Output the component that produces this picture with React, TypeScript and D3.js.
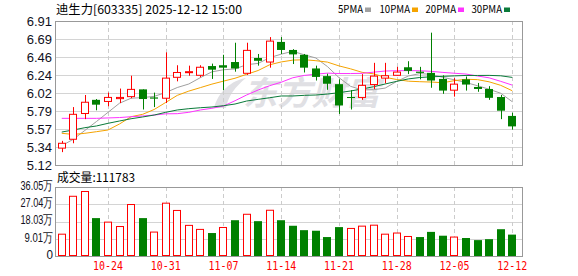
import React from 'react';
import * as d3 from 'd3';

const dates = ['10-20','10-21','10-22','10-23','10-24','10-27','10-28','10-29','10-30','10-31','11-03','11-04','11-05','11-06','11-07','11-10','11-11','11-12','11-13','11-14','11-17','11-18','11-19','11-20','11-21','11-24','11-25','11-26','11-27','11-28','12-01','12-02','12-03','12-04','12-05','12-08','12-09','12-10','12-11','12-12'];
const xTickLabels = ['10-24','10-31','11-07','11-14','11-21','11-28','12-05','12-12'];

const opens = [5.33,5.44,5.76,5.93,5.91,5.945,5.97,6.06,5.96,5.95,6.21,6.27,6.235,6.35,6.36,6.40,6.26,6.45,6.40,6.65,6.55,6.49,6.32,6.225,6.125,5.965,5.96,6.12,6.20,6.235,6.335,6.28,6.265,6.19,6.05,6.185,6.09,6.065,5.965,5.73];
const highs = [5.42,5.84,5.99,5.94,6.02,6.07,6.23,6.06,6.02,6.52,6.36,6.355,6.36,6.38,6.49,6.64,6.64,6.50,6.71,6.71,6.56,6.50,6.355,6.255,6.185,6.05,6.25,6.39,6.39,6.34,6.41,6.34,6.765,6.235,6.20,6.22,6.14,6.10,5.99,5.77];
const lows = [5.28,5.39,5.69,5.80,5.85,5.89,5.95,5.81,5.84,5.89,6.16,6.23,6.21,6.19,6.05,6.28,6.24,6.355,6.33,6.50,6.375,6.27,6.17,6.055,5.755,5.81,5.93,6.065,6.135,6.23,6.25,6.185,6.08,6.005,5.97,6.045,6.03,5.93,5.69,5.56];
const closes = [5.39,5.75,5.90,5.87,5.96,5.96,6.06,5.94,5.945,6.20,6.27,6.28,6.335,6.305,6.33,6.32,6.545,6.415,6.66,6.55,6.495,6.33,6.215,6.13,5.86,5.955,6.11,6.225,6.23,6.275,6.29,6.265,6.17,6.045,6.125,6.12,6.065,5.955,5.795,5.60];
const volumes = [114000,312000,337000,198000,177000,154000,269000,198000,125000,276000,238000,160000,139000,120000,149000,187000,218000,182000,239000,187000,158000,135000,132000,99000,151000,144000,156000,161000,114000,120000,102000,99000,126000,106000,99000,94000,83000,88000,140000,111783];

const ma5 = [5.36,5.44,5.55,5.66,5.774,5.888,5.95,5.958,5.973,6.021,6.083,6.127,6.206,6.278,6.304,6.314,6.367,6.383,6.454,6.498,6.533,6.49,6.45,6.344,6.206,6.098,6.054,6.056,6.076,6.159,6.226,6.257,6.246,6.209,6.179,6.145,6.105,6.062,6.012,5.907];
const ma10 = [5.514,5.50,5.514,5.534,5.555,5.63,5.72,5.75,5.81,5.8975,5.9855,6.0385,6.082,6.1255,6.1625,6.1985,6.247,6.2945,6.366,6.401,6.4235,6.4285,6.4165,6.399,6.352,6.3155,6.272,6.253,6.21,6.1825,6.162,6.1555,6.151,6.1425,6.169,6.1855,6.181,6.154,6.1105,6.043];
const ma20 = [5.70,5.70,5.70,5.70,5.705,5.71,5.72,5.729,5.741,5.756,5.758,5.775,5.804,5.825,5.853,5.919,5.99,6.052,6.106,6.149,6.2045,6.2335,6.249,6.262,6.257,6.257,6.2595,6.274,6.288,6.292,6.293,6.292,6.284,6.271,6.2605,6.2505,6.2265,6.2035,6.16,6.113];
const ma30 = [5.53,5.555,5.584,5.605,5.638,5.667,5.695,5.717,5.741,5.775,5.804,5.82,5.832,5.841,5.857,5.878,5.915,5.936,5.956,5.978,5.978,5.986,5.99,6.002,6.019,6.04,6.065,6.093,6.127,6.16,6.19,6.2075,6.2165,6.222,6.228,6.233,6.233,6.234,6.229,6.209];

const priceTickLabels = ['5.12','5.34','5.57','5.79','6.02','6.24','6.46','6.69','6.91'];
const volTickLabels = ['0','9.01万','18.03万','27.04万','36.05万'];
const legendNames = ['5PMA','10PMA','20PMA','30PMA'];
const legendColors = ['#a0a0a0','#f5a300','#ff33ff','#0a7a3a'];

const RED = '#ff0000';
const GREEN = '#008000';

const LEFT = 55, RIGHT = 522;
const MAIN_TOP = 21, MAIN_BOT = 165;
const VOL_TOP = 187, VOL_BOT = 256;

export default function App() {
  const x = d3.scaleBand<string>().domain(dates).range([56, 518]).paddingInner(0.32).paddingOuter(0.16);
  const cx = (d: string) => (x(d) as number) + x.bandwidth() / 2;
  const pMin = 5.12, pMax = 6.91;
  const y = d3.scaleLinear().domain([pMin, pMax]).range([MAIN_BOT, MAIN_TOP]);
  const vMax = 360500;
  const yv = d3.scaleLinear().domain([0, vMax]).range([VOL_BOT, VOL_TOP]);
  const priceTickVals = d3.range(priceTickLabels.length).map(k => pMin + (k * (pMax - pMin)) / (priceTickLabels.length - 1));
  const volTickVals = d3.range(volTickLabels.length).map(k => (k * vMax) / (volTickLabels.length - 1));

  const mkLine = (arr: number[]) =>
    d3.line<number>().x((_, i) => cx(dates[i])).y(v => y(v))(arr) || '';

  const maSeries = [ma5, ma10, ma20, ma30];

  const font = "'Noto Sans CJK SC', 'DejaVu Sans', sans-serif";
  const numFont = "'Liberation Sans', Arial, sans-serif";

  return (
    <svg width={578} height={276} style={{ position: 'fixed', left: 0, top: 0, background: '#fff' }}>
      <rect x={0} y={0} width={578} height={276} fill="#fff" />
      {/* title */}
      <text x={56} y={14} fontSize={12} fontFamily={font} fill="#000" textLength={186} lengthAdjust="spacingAndGlyphs">迪生力[603335] 2025-12-12 15:00</text>
      {/* legend */}
      {legendNames.map((n, i) => {
        const xs = [338, 379.5, 425.5, 471.5][i];
        const w = n.length === 4 ? 25 : 30.5;
        return (
          <g key={n}>
            <text x={xs} y={13} fontSize={11} fontFamily={font} fill="#000" textLength={w} lengthAdjust="spacingAndGlyphs">{n}</text>
            <rect x={xs + w + 2} y={7.5} width={6} height={4.5} fill={legendColors[i]} />
          </g>
        );
      })}

      {/* watermark */}
      <g>
        <path d="M214,108 C218,92 232,80 246,78 C236,86 228,96 226,108 Z" fill="#e0e0e4" />
        <text x={243} y={105} fontSize={33} fontStyle="italic" fontWeight="bold" fontFamily={font} fill="#e0e0e4" textLength={137} lengthAdjust="spacingAndGlyphs">东方财富</text>
      </g>

      {/* main grid */}
      {priceTickVals.slice(1, -1).map((v, i) => (
        <line key={'hg' + i} x1={LEFT} x2={RIGHT} y1={Math.round(y(v)) + 0.5} y2={Math.round(y(v)) + 0.5} stroke="#d4d4d4" strokeWidth={1} />
      ))}
      {volTickVals.slice(1, -1).map((v, i) => (
        <line key={'vg' + i} x1={LEFT} x2={RIGHT} y1={Math.round(yv(v)) + 0.5} y2={Math.round(yv(v)) + 0.5} stroke="#d4d4d4" strokeWidth={1} />
      ))}
      {xTickLabels.map(d => {
        const xx = Math.round(cx(d)) + 0.5;
        return (
          <g key={'vd' + d}>
            <line x1={xx} x2={xx} y1={MAIN_TOP} y2={MAIN_BOT} stroke="#cccccc" strokeDasharray="4,3" />
            <line x1={xx} x2={xx} y1={VOL_TOP} y2={VOL_BOT} stroke="#cccccc" strokeDasharray="4,3" />
          </g>
        );
      })}

      {/* MA lines */}
      {maSeries.map((arr, i) => (
        <path key={'ma' + i} d={mkLine(arr)} fill="none" stroke={legendColors[i]} strokeWidth={1} />
      ))}

      {/* candles */}
      {dates.map((d, i) => {
        const o = opens[i], c = closes[i], h = highs[i], l = lows[i];
        const up = c > o;
        const color = up ? RED : GREEN;
        const left = Math.round(cx(d) - 4);
        const wx = left + 4.5;
        const top = y(Math.max(o, c));
        const bot = y(Math.min(o, c));
        const bh = Math.max(1, bot - top);
        return (
          <g key={'c' + d}>
            <line x1={wx} x2={wx} y1={y(h)} y2={y(l)} stroke={color} strokeWidth={1} />
            {up ? (
              <rect x={left + 0.5} y={top} width={7} height={bh} fill="#fff" stroke={color} strokeWidth={1} />
            ) : (
              <rect x={left} y={top} width={8} height={bh} fill={color} />
            )}
          </g>
        );
      })}

      {/* volume bars */}
      {dates.map((d, i) => {
        const prev = i === 0 ? opens[0] : closes[i - 1];
        const up = closes[i] >= prev;
        const left = Math.round(cx(d) - 4);
        const top = yv(volumes[i]);
        return up ? (
          <rect key={'v' + d} x={left + 0.5} y={top} width={7} height={VOL_BOT - top - 0.5} fill="#fff" stroke={RED} strokeWidth={1} />
        ) : (
          <rect key={'v' + d} x={left} y={top} width={8} height={VOL_BOT - top} fill={GREEN} />
        );
      })}

      {/* borders */}
      <rect x={LEFT + 0.5} y={MAIN_TOP + 0.5} width={RIGHT - LEFT} height={MAIN_BOT - MAIN_TOP} fill="none" stroke="#999" strokeWidth={1} />
      <rect x={LEFT + 0.5} y={VOL_TOP + 0.5} width={RIGHT - LEFT} height={VOL_BOT - VOL_TOP} fill="none" stroke="#999" strokeWidth={1} />

      {/* price axis labels */}
      {priceTickVals.map((v, i) => (
        <text key={'pl' + i} x={52} y={y(v)} dy="0.35em" textAnchor="end" fontSize={13} fontFamily={numFont} fill="#111122">{priceTickLabels[i]}</text>
      ))}

      {/* volume title */}
      <text x={57} y={182} fontSize={12} fontFamily={font} fill="#000" textLength={78} lengthAdjust="spacingAndGlyphs">成交量:111783</text>

      {/* volume axis labels */}
      {volTickVals.map((v, i) => {
        const lab = volTickLabels[i];
        const w = lab === '0' ? 6.5 : lab.length === 6 ? 32.5 : 28.5;
        return (
          <text key={'vl' + i} x={53 - w} y={yv(v) - 1.5} dy="0.35em" fontSize={12.5} fontFamily={numFont} fill="#111122" textLength={w} lengthAdjust="spacingAndGlyphs">{lab}</text>
        );
      })}

      {/* x labels */}
      {xTickLabels.map(d => (
        <text key={'xl' + d} x={cx(d) - 15} y={270} fontSize={11.5} fontFamily="'DejaVu Sans Mono', monospace" fill={RED} textLength={30} lengthAdjust="spacingAndGlyphs">{d}</text>
      ))}
    </svg>
  );
}
